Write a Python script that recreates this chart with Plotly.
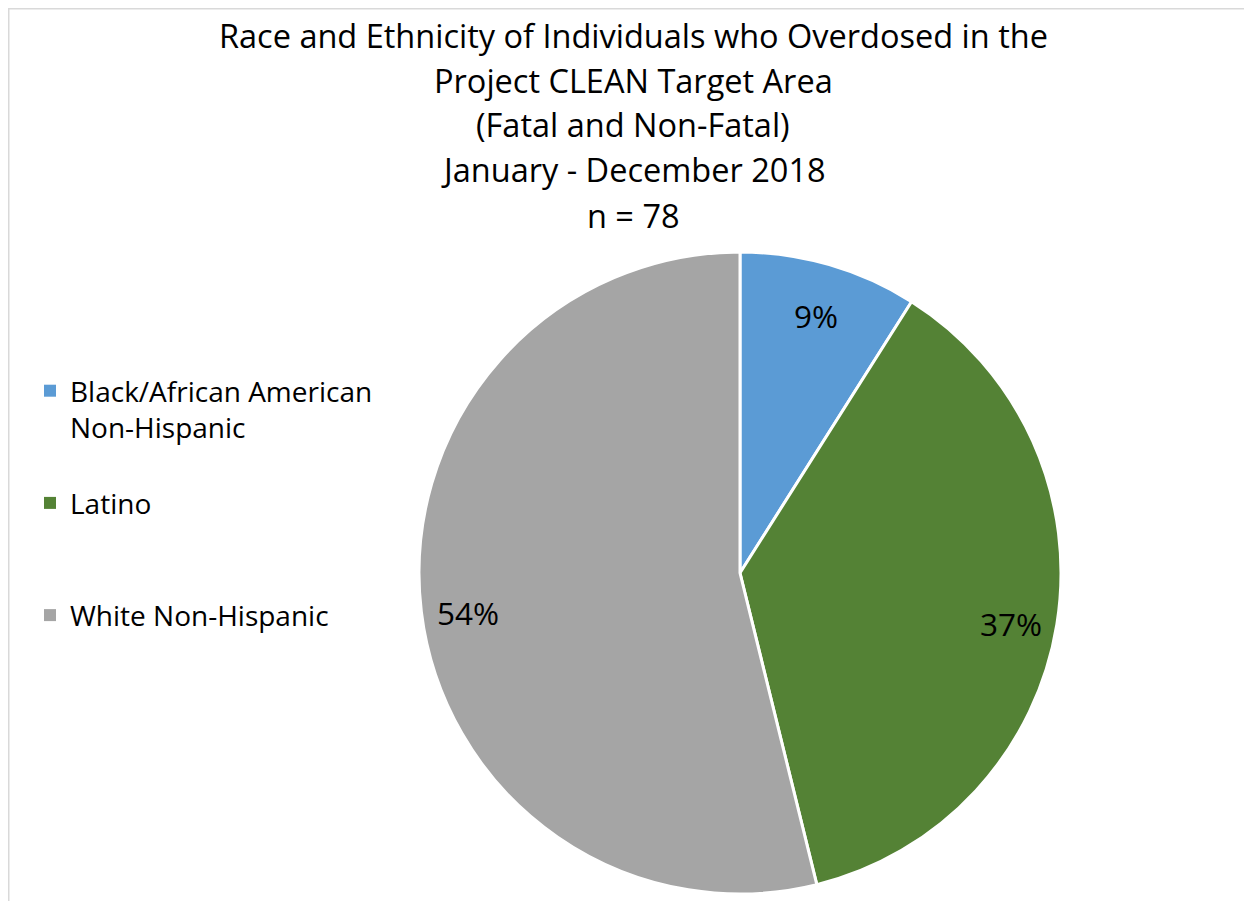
import math
import plotly.graph_objects as go

categories = ["Black/African American<br>Non-Hispanic", "Latino", "White Non-Hispanic"]
counts = [7, 29, 42]
colors = ["#5B9BD5", "#548235", "#A5A5A5"]
title_lines = [
    "Race and Ethnicity of Individuals who Overdosed in the",
    "Project CLEAN Target Area",
    "(Fatal and Non-Fatal)",
    "January - December 2018",
    "n = 78",
]

W, H = 1252, 901
FONT = "Open Sans"

# pie geometry (pixels, figure coordinates)
CX, CY, HALF = 732, 565, 321
dom_x = [(CX - HALF) / W, (CX + HALF) / W]
dom_y = [1 - (CY + HALF) / H, 1 - (CY - HALF) / H]

fig = go.Figure()
fig.add_trace(go.Pie(
    labels=categories,
    values=counts,
    sort=False,
    direction="clockwise",
    rotation=0,
    marker=dict(colors=colors, line=dict(color="white", width=3)),
    textinfo="none",
    hovertemplate="%{label}: %{value}<extra></extra>",
    showlegend=False,
    domain=dict(x=dom_x, y=dom_y),
))

# percentage labels placed along each slice's mid-angle, like the original
total = sum(counts)
cum = 0
R_LABEL = 0.86 * (HALF - 2)
for v in counts:
    mid = (cum + v / 2) / total * 2 * math.pi
    cum += v
    px = CX + R_LABEL * math.sin(mid)
    py = CY - R_LABEL * math.cos(mid) + 6
    fig.add_annotation(
        text=f"{round(100 * v / total)}%", x=px / W, y=1 - py / H,
        xref="paper", yref="paper", xanchor="center", yanchor="middle",
        showarrow=False, font=dict(family=FONT, size=31.5, color="black"),
    )

# legend entries (padded so they spread out like the original)
pads = ["<br> ", "<br> <br> ", ""]
for cat, col, pad in zip(categories, colors, pads):
    fig.add_trace(go.Scatter(
        x=[None], y=[None], mode="markers", name=cat + pad,
        marker=dict(symbol="square", size=12, color=col),
        showlegend=True, hoverinfo="skip",
    ))

title_y = [27, 72, 117, 162, 207]
for line, yy in zip(title_lines, title_y):
    fig.add_annotation(
        text=line, x=625 / W, y=1 - yy / H, xref="paper", yref="paper",
        xanchor="center", yanchor="middle", showarrow=False,
        font=dict(family=FONT, size=32.5, color="black"),
    )

fig.add_shape(type="rect", xref="paper", yref="paper",
              x0=0.5 / W, x1=1.05, y0=-0.05, y1=1 - 0.5 / H,
              line=dict(color="#D9D9D9", width=2), fillcolor="rgba(0,0,0,0)")

fig.update_layout(
    width=W, height=H,
    margin=dict(l=0, r=0, t=0, b=0),
    paper_bgcolor="white", plot_bgcolor="white",
    font=dict(family=FONT, color="black"),
    xaxis=dict(visible=False), yaxis=dict(visible=False),
    showlegend=True,
    legend=dict(x=22 / W, y=1 - 358 / H, xanchor="left", yanchor="top",
                valign="top", font=dict(family=FONT, size=28, color="black"),
                bgcolor="rgba(0,0,0,0)"),
)

fig.write_html("out.html")
